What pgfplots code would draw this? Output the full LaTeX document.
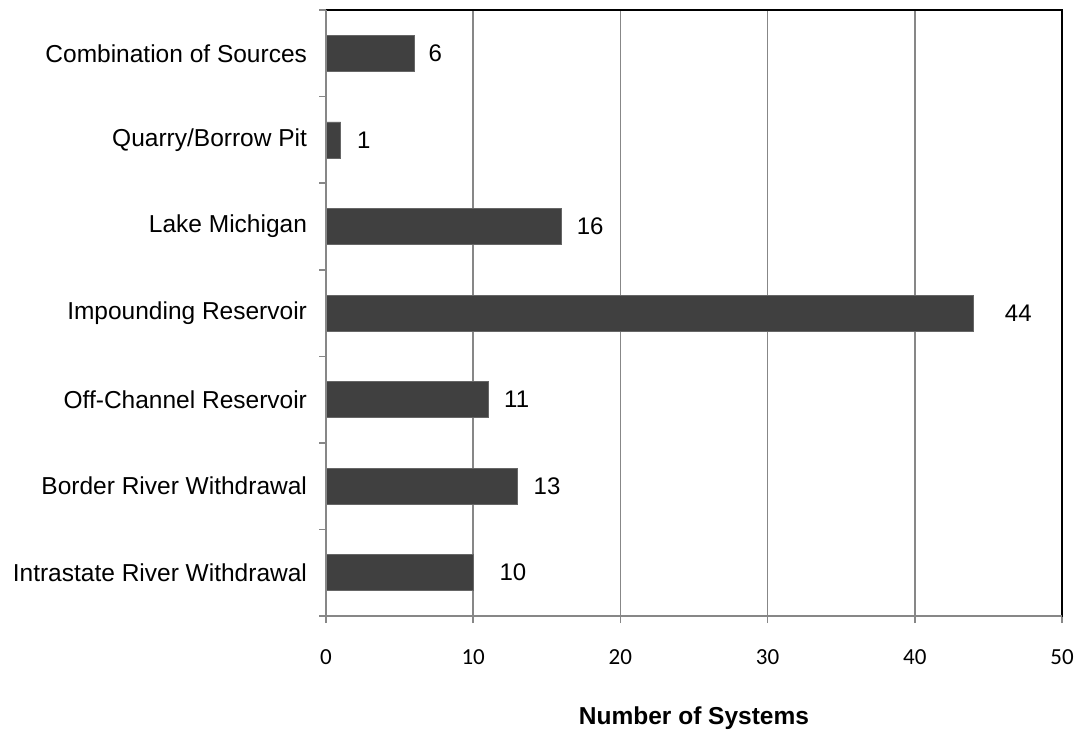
\documentclass[border=0pt]{standalone}
\usepackage{pgfplots}
\pgfplotsset{compat=1.18}
\usepackage{pgfplotstable}
\usepackage{fontspec}
\setmainfont{Liberation Sans}
\newfontfamily\tickfont{Carlito}

\definecolor{barfill}{HTML}{404040}
\definecolor{gridgray}{HTML}{878787}

% value, category index, label offset (pt)
\pgfplotstableread{
val idx off
10  0   13
13  1   8
11  2   8
44  3   15.5
16  4   7.5
1   5   8
6   6   7
}\sourcedata

\begin{document}
\begin{tikzpicture}
\begin{axis}[
  at={(163pt,57pt)}, anchor=south west,
  width=368pt, height=303pt, scale only axis,
  xbar, bar width=18pt,
  xmin=0, xmax=50, ymin=-0.5, ymax=6.5,
  xtick={0,10,...,50},
  ytick={0,...,6},
  yticklabels={Intrastate River Withdrawal, Border River Withdrawal, Off-Channel Reservoir, Impounding Reservoir, Lake Michigan, Quarry/Borrow Pit, Combination of Sources\hspace{5pt}},
  yticklabel style={font=\fontsize{12.25}{14}\selectfont, xshift=-2.5pt},
  xticklabel style={font=\tickfont\fontsize{11.5}{13}\selectfont, yshift=-9.5pt},
  /pgf/number format/assume math mode=true,
  tick align=outside, xtick pos=bottom, ytick pos=left,
  major tick length=3.5pt,
  tick style={draw=gridgray, line width=0.8pt},
  ytick style={draw=none},
  extra y ticks={-0.5,0.5,...,6.5},
  extra y tick labels={},
  extra y tick style={ytick style={draw=gridgray, line width=0.8pt}, grid=none},
  xmajorgrids,
  major grid style={draw=gridgray, line width=0.8pt},
  axis line style={draw=black, line width=1pt},
  xlabel={\textbf{Number of Systems}},
  xlabel style={font=\fontsize{12.25}{14}\selectfont, yshift=-14.5pt},
  visualization depends on={\thisrow{off} \as \labeloff},
  nodes near coords,
  nodes near coords style={font=\fontsize{12}{14}\selectfont, anchor=west, inner sep=0pt, xshift=\labeloff pt, text=black},
  point meta=explicit,
  clip=false,
]
\addplot[fill=barfill, draw=barfill!80!white, line width=0.3pt] table[x=val, y=idx, meta=val] {\sourcedata};
\draw[gridgray, line width=1pt] (axis cs:0,-0.5) -- (axis cs:0,6.5);
\draw[gridgray, line width=1pt] (axis cs:0,-0.5) -- (axis cs:50,-0.5);
\end{axis}
\pgfresetboundingbox
\path[use as bounding box] (0,0) rectangle (540pt,365pt);
\end{tikzpicture}
\end{document}
